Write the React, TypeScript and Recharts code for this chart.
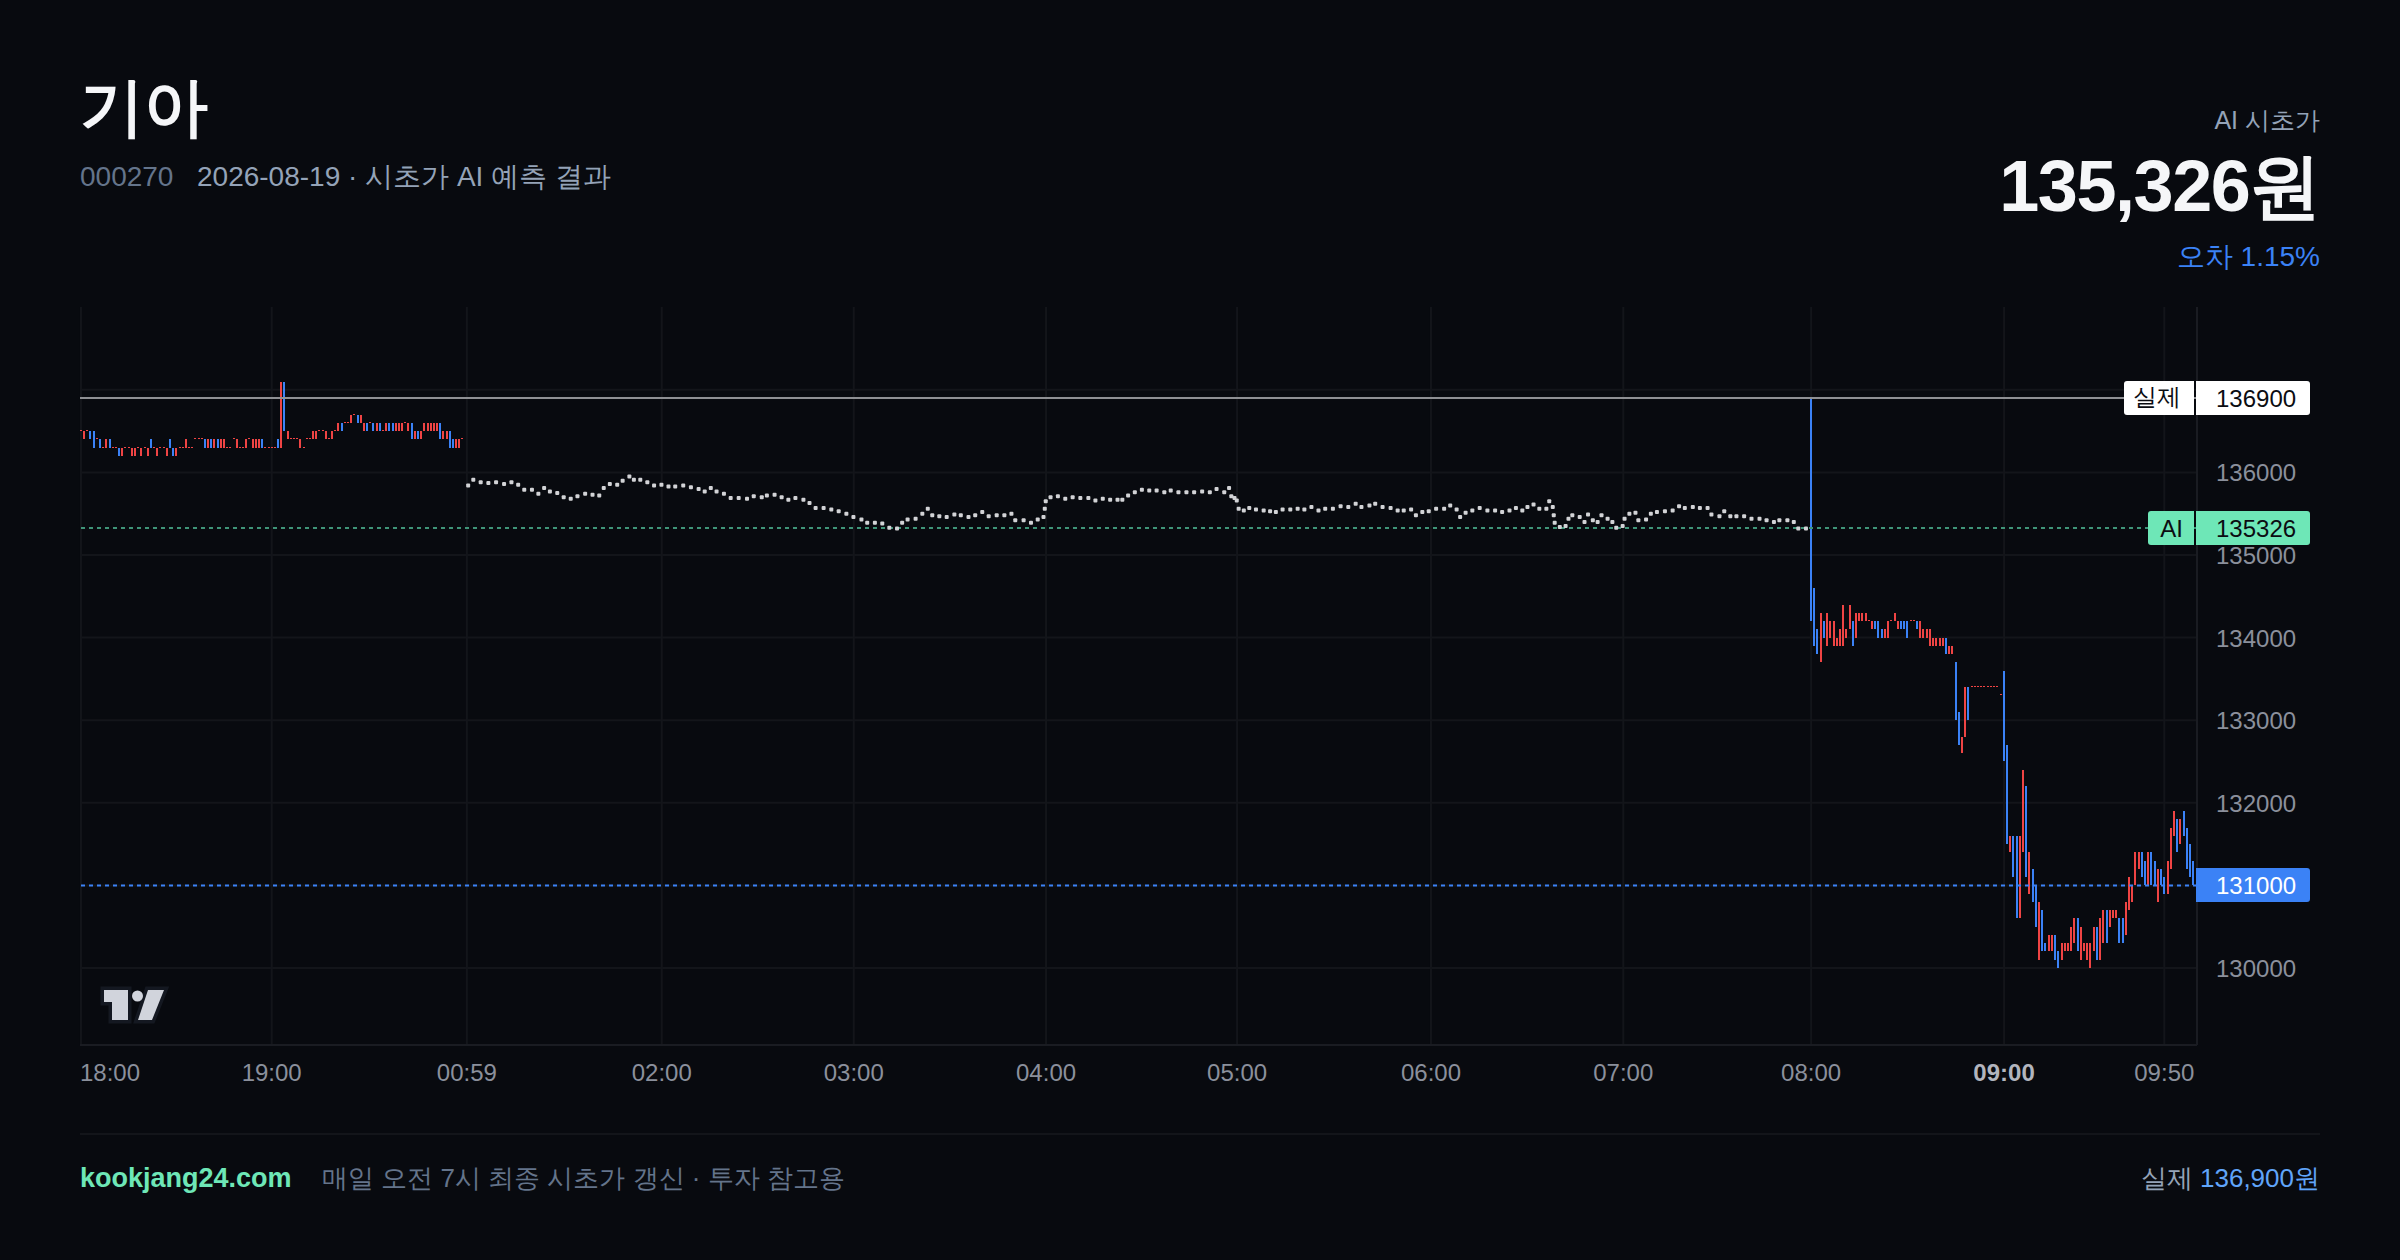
import { Bar, CartesianGrid, ComposedChart, ReferenceLine, Scatter, XAxis, YAxis } from "recharts";

const FONT = '"Liberation Sans", sans-serif';
const RED = "#ef4444";
const BLUE = "#3b82f6";
const MINT = "#6ee7b7";
const GRID = "#13151a";

const AI_PRICE = 135326;
const ACTUAL_PRICE = 136900;
const LAST_PRICE = 131000;

const priceTicks = [130000, 131000, 132000, 133000, 134000, 135000, 136000, 137000];
const timeTicks = [0, 59.5, 120.4, 181.2, 241.1, 301.1, 360.7, 421.2, 481.2, 539.8, 600, 650];
const timeLabels = ["18:00", "19:00", "00:59", "02:00", "03:00", "04:00", "05:00", "06:00", "07:00", "08:00", "09:00", "09:50"];

// evening session, one bar per minute
const eveningLow = [
  136500, 136400, 136500, 136400, 136300, 136400, 136300, 136300, 136300, 136300,
  136300, 136300, 136200, 136200, 136300, 136300, 136200, 136200, 136300, 136200,
  136300, 136200, 136300, 136300, 136200, 136300, 136300, 136200, 136300, 136200,
  136200, 136300, 136300, 136300, 136300, 136300, 136400, 136400, 136400, 136300,
  136300, 136300, 136300, 136300, 136300, 136300, 136300, 136300, 136400, 136300,
  136300, 136300, 136300, 136400, 136300, 136300, 136300, 136300, 136300, 136300,
  136300, 136300, 136300, 136300, 136500, 136400, 136400, 136400, 136400, 136300,
  136300, 136400, 136400, 136400, 136400, 136500, 136500, 136400, 136400, 136400,
  136500, 136500, 136500, 136600, 136600, 136600, 136700, 136600, 136600, 136500,
  136500, 136600, 136500, 136500, 136500, 136500, 136500, 136500, 136500, 136500,
  136500, 136500, 136600, 136500, 136400, 136400, 136400, 136400, 136500, 136500,
  136500, 136500, 136500, 136400, 136400, 136400, 136300, 136300, 136300, 136300,
  136400,
];
const eveningHigh = [
  136500, 136500, 136500, 136500, 136500, 136400, 136400, 136300, 136400, 136400,
  136300, 136300, 136300, 136300, 136300, 136300, 136300, 136300, 136300, 136300,
  136300, 136300, 136400, 136300, 136300, 136300, 136300, 136300, 136400, 136300,
  136300, 136300, 136300, 136400, 136300, 136300, 136400, 136400, 136400, 136400,
  136400, 136400, 136400, 136400, 136400, 136400, 136300, 136300, 136400, 136400,
  136300, 136300, 136400, 136400, 136400, 136400, 136400, 136400, 136300, 136300,
  136300, 136300, 136400, 137100, 137100, 136500, 136400, 136400, 136400, 136400,
  136300, 136400, 136400, 136500, 136500, 136500, 136500, 136500, 136400, 136500,
  136500, 136600, 136600, 136600, 136600, 136700, 136700, 136700, 136700, 136600,
  136600, 136600, 136600, 136600, 136600, 136500, 136600, 136600, 136600, 136600,
  136600, 136600, 136600, 136600, 136600, 136500, 136500, 136500, 136600, 136600,
  136600, 136600, 136600, 136600, 136500, 136500, 136500, 136400, 136400, 136400,
  136400,
];
const eveningFalling = [3, 4, 6, 9, 12, 22, 28, 29, 39, 41, 43, 57, 62, 64, 82, 87, 90, 92, 94, 97, 98, 104, 106, 113, 116, 117];

// morning session from 08:00
const morningLow = [
  134200, 133900, 133800, 133700, 134000, 133900, 134000, 133900, 133900, 133900,
  133900, 134000, 134100, 133900, 134000, 134200, 134200, 134200, 134200, 134100,
  134100, 134000, 134000, 134000, 134000, 134200, 134200, 134100, 134100, 134100,
  134000, 134200, 134200, 134100, 134000, 134000, 134000, 133900, 133900, 133900,
  133900, 133900, 133800, 133800, 133800, 133000, 132700, 132600, 132800, 133000,
  133400, 133400, 133400, 133400, 133400, 133400, 133400, 133400, 133400, 133300,
  132500, 131500, 131400, 131100, 130600, 130600, 131400, 131100, 130900, 130800,
  130500, 130100, 130200, 130200, 130200, 130200, 130100, 130000, 130100, 130200,
  130200, 130200, 130300, 130200, 130100, 130200, 130100, 130000, 130200, 130100,
  130100, 130300, 130300, 130500, 130600, 130600, 130300, 130300, 130400, 130700,
  130800, 131000, 131200, 131100, 131000, 131000, 131000, 131000, 130800, 131000,
  130900, 130900, 131200, 131600, 131400, 131500, 131600, 131200, 131100, 131000,
];
const morningHigh = [
  136900, 134600, 134100, 134300, 134200, 134300, 134200, 134200, 134000, 134100,
  134400, 134100, 134400, 134200, 134300, 134300, 134300, 134300, 134200, 134200,
  134200, 134200, 134100, 134100, 134200, 134200, 134300, 134200, 134200, 134200,
  134200, 134200, 134200, 134200, 134200, 134100, 134100, 134100, 134000, 134000,
  134000, 134000, 134000, 133900, 133900, 133700, 133100, 132800, 133400, 133400,
  133400, 133400, 133400, 133400, 133400, 133400, 133400, 133400, 133400, 133300,
  133600, 132700, 131600, 131600, 131600, 131600, 132400, 132200, 131400, 131200,
  131000, 130800, 130700, 130300, 130400, 130400, 130400, 130200, 130300, 130300,
  130300, 130500, 130600, 130600, 130500, 130300, 130300, 130300, 130500, 130500,
  130600, 130700, 130700, 130700, 130700, 130700, 130600, 130600, 130800, 131100,
  131000, 131400, 131400, 131400, 131300, 131400, 131400, 131300, 131200, 131200,
  131100, 131300, 131700, 131900, 131800, 131800, 131900, 131700, 131500, 131300,
];
const morningFalling = [
  0, 1, 2, 4, 13, 20, 21, 22, 28, 29, 30, 33, 42, 45, 46, 49, 60, 61, 63, 64, 67, 69, 70, 72, 73, 76, 77, 83, 89, 92,
  96, 97, 103, 104, 106, 107, 109, 110, 114, 116, 117, 118, 119,
];

// AI opening-price forecast dots
const forecastTimes = [
  120.8, 122.4, 124.7, 127.1, 129.5, 132, 134.3, 136.4, 138.3, 140.7, 142.7, 144.5, 146.3, 148.6, 150.6, 152.8, 154.9, 157.3,
  159.6, 161.7, 163.1, 165, 167.3, 169, 171.1, 172.5, 174.5, 176.7, 178.8, 181.1, 183.3, 185.4, 187.9, 190.3, 192.7, 194.6,
  196.5, 198.3, 200.6, 202.7, 205.2, 207.8, 209.9, 212.4, 214, 216.4, 218.6, 220.7, 222.9, 225.4, 227.3, 229.2, 231.7, 234.1,
  236.4, 238.8, 241, 243.5, 245.3, 247.7, 250, 252.2, 254.6, 256.2, 257.9, 260.4, 262.5, 264.2, 265.6, 267.8, 270.1, 272.5,
  274.5, 276.9, 279, 281.2, 283.2, 285.7, 288.1, 290.3, 291.5, 294.1, 296.4, 298.5, 300.3, 300.7, 301, 302.5, 304.8, 307.1,
  309.4, 311.8, 314.3, 316.5, 318.8, 321.1, 323.4, 324.9, 326.7, 328.8, 331, 333.3, 335.6, 338, 340, 342.4, 344.9, 347.3,
  349.8, 352.2, 354.3, 356.7, 358.2, 358.9, 359.9, 360.6, 361.2, 362.8, 364.5, 366.6, 369, 371, 372.8, 374.9, 377.3, 379.6,
  381.7, 383.9, 386.1, 388.2, 390.6, 393, 395.4, 397.7, 399.5, 402, 403.8, 406.1, 408.6, 410.8, 412.7, 415, 416.5, 418.5,
  420.5, 422.8, 425.3, 427.2, 429.2, 430.3, 432, 434.1, 436.4, 438.8, 441.2, 443.4, 445.7, 447.7, 449.7, 451.3, 453.2, 455,
  457.2, 458.1, 459.2, 459.5, 459.8, 461.4, 463.2, 464.1, 465.3, 467.6, 469.1, 470.2, 471.7, 473.2, 474.4, 476.3, 477.8, 479,
  481, 481.6, 483.1, 485, 485.9, 488.3, 489.8, 491.7, 494.2, 496.6, 498.6, 500.4, 502.9, 505.1, 507.5, 508.7, 511.2, 512.7,
  514.6, 516.5, 518.9, 521.2, 523.7, 525.9, 528.2, 529.9, 532.4, 534.4, 535.8, 538.2,
];
const forecastPrices = [
  135840, 135910, 135880, 135870, 135880, 135860, 135880, 135850, 135790, 135790, 135740, 135810, 135770, 135750, 135700, 135680, 135710, 135740,
  135730, 135720, 135810, 135860, 135850, 135900, 135950, 135910, 135910, 135880, 135840, 135850, 135830, 135830, 135840, 135820, 135800, 135770,
  135810, 135770, 135740, 135690, 135690, 135680, 135710, 135700, 135720, 135730, 135700, 135670, 135690, 135670, 135630, 135570, 135570, 135550,
  135530, 135500, 135460, 135430, 135390, 135390, 135380, 135330, 135320, 135390, 135430, 135440, 135500, 135560, 135480, 135470, 135460, 135490,
  135480, 135460, 135480, 135520, 135470, 135480, 135480, 135500, 135420, 135420, 135390, 135430, 135460, 135560, 135650, 135700, 135710, 135680,
  135700, 135690, 135690, 135660, 135680, 135670, 135670, 135670, 135720, 135760, 135790, 135780, 135780, 135760, 135780, 135760, 135760, 135760,
  135770, 135760, 135800, 135760, 135810, 135710, 135690, 135660, 135560, 135540, 135570, 135550, 135540, 135530, 135520, 135550, 135550, 135560,
  135550, 135580, 135540, 135560, 135560, 135590, 135580, 135620, 135580, 135600, 135620, 135580, 135570, 135540, 135540, 135550, 135480, 135520,
  135530, 135560, 135560, 135600, 135550, 135460, 135510, 135540, 135570, 135540, 135540, 135520, 135540, 135570, 135540, 135580, 135610, 135560,
  135560, 135650, 135580, 135480, 135390, 135340, 135350, 135440, 135480, 135460, 135400, 135490, 135420, 135400, 135480, 135440, 135400, 135330,
  135350, 135440, 135500, 135510, 135420, 135430, 135500, 135520, 135530, 135540, 135590, 135570, 135580, 135570, 135570, 135490, 135470, 135530,
  135470, 135470, 135470, 135440, 135440, 135420, 135400, 135420, 135420, 135400, 135320, 135320,
];

const barRows = [
  ...eveningLow.map((low, i) => ({ t: i * 0.992, range: [low, eveningHigh[i]], falling: eveningFalling.includes(i) })),
  ...morningLow.map((low, i) => ({ t: 539.8 + i * 1.002, range: [low, morningHigh[i]], falling: morningFalling.includes(i) })),
];
const forecastRows = forecastTimes.map((t, i) => ({ t, price: forecastPrices[i] }));

function CandleBar(props: any) {
  const { x, y, width, height, payload } = props;
  const top = Math.round(y);
  const bottom = Math.max(Math.round(y + height), top + 1);
  return <rect x={Math.round(x + width / 2 - 1)} y={top} width={2} height={bottom - top} fill={payload.falling ? BLUE : RED} shapeRendering="crispEdges" />;
}

function ForecastDot(props: any) {
  return <rect x={props.cx - 2} y={props.cy - 2} width={4} height={4} rx={1} fill="#d2d3d6" />;
}

function TimeTick(props: any) {
  const { x, y, index } = props;
  const label = timeLabels[index];
  const bold = label === "09:00";
  return (
    <text
      x={index === 0 ? x - 1 : x}
      y={y + 36}
      textAnchor={index === 0 ? "start" : "middle"}
      fontSize={24}
      fontFamily={FONT}
      fontWeight={bold ? 700 : 400}
      fill={bold ? "#b2b5be" : "#8b909c"}
    >
      {label}
    </text>
  );
}

// these two sit behind a price tag in the picture, so they get no label of their own
const coveredPrices = [131000, 137000];

function PriceTick(props: any) {
  const { x, y, payload } = props;
  if (coveredPrices.includes(payload.value)) return null;
  return (
    <text x={x} y={y + 9} fontSize={24} fontFamily={FONT} fill="#8b909c">
      {payload.value}
    </text>
  );
}

function PriceTag(props: any) {
  const { viewBox, tag, text, bg, fg } = props;
  const right = viewBox.x + viewBox.width;
  const top = Math.round(viewBox.y) - 17;
  return (
    <g fontFamily={FONT} fontSize={24} fill={fg}>
      <path d={`M${right - 1} ${top}H${right + 110}a3 3 0 0 1 3 3V${top + 31}a3 3 0 0 1 -3 3H${right - 1}Z`} fill={bg} />
      <text x={right + 19} y={top + 26} fill={fg}>
        {text}
      </text>
      {tag ? (
        <>
          <path d={`M${right - 3} ${top}H${right - tag.width}a3 3 0 0 0 -3 3V${top + 31}a3 3 0 0 0 3 3H${right - 3}Z`} fill={bg} />
          <text x={right - 3 - (tag.width - 3) / 2 - 1 + tag.dx} y={top + 26 + tag.dy} textAnchor="middle" fill={fg}>
            {tag.label}
          </text>
        </>
      ) : null}
    </g>
  );
}

function Logo() {
  return (
    <svg width={100} height={60} style={{ position: "absolute", left: 90, top: 975 }} viewBox="90 975 100 60">
      <g fill="#d1d4dc" stroke="#141821" strokeWidth={7} paintOrder="stroke" strokeLinejoin="miter">
        <path d="M104 990H128V1020H112V1002H104Z" />
        <path d="M148 990H164L152 1020H138Z" />
      </g>
      <circle cx={137.5} cy={996} r={5.5} fill="#d1d4dc" />
    </svg>
  );
}

const abs = (style: any) => ({ position: "absolute", whiteSpace: "nowrap", ...style }) as any;

export default function App() {
  return (
    <div style={{ position: "fixed", left: 0, top: 0, width: 2400, height: 1260, background: "#080a0f", fontFamily: FONT, overflow: "hidden" }}>
      <div style={abs({ left: 80, top: 65, fontSize: 64, lineHeight: "84px", fontWeight: 700, color: "#f5f6f8" })}>기아</div>
      <div style={abs({ left: 80, top: 160, fontSize: 28, lineHeight: "34px", color: "#64748b" })}>000270</div>
      <div style={abs({ left: 197, top: 160, fontSize: 28, lineHeight: "34px", color: "#94a3b8" })}>2026-08-19 · 시초가 AI 예측 결과</div>
      <div style={abs({ right: 80, top: 103, fontSize: 25, lineHeight: "34px", color: "#94a3b8" })}>AI 시초가</div>
      <div style={abs({ right: 80, top: 141, fontSize: 72, lineHeight: "90px", fontWeight: 700, letterSpacing: "-1.44px", color: "#f5f6f8" })}>135,326원</div>
      <div style={abs({ right: 80, top: 239, fontSize: 28, lineHeight: "36px", color: BLUE })}>오차 1.15%</div>

      <div style={{ position: "absolute", left: 0, top: 0 }}>
        <ComposedChart width={2400} height={1260} data={barRows} margin={{ top: 307, right: 80, bottom: 165, left: 80 }}>
          <CartesianGrid stroke={GRID} strokeWidth={2} horizontalValues={priceTicks} verticalValues={timeTicks} />
          <XAxis
            dataKey="t"
            type="number"
            domain={[-0.31, 660.2]}
            ticks={timeTicks}
            interval={0}
            allowDataOverflow
            height={50}
            tickSize={0}
            tickMargin={0}
            stroke="#1a1c22"
            strokeWidth={2}
            tick={<TimeTick />}
          />
          <YAxis
            orientation="right"
            type="number"
            width={123}
            domain={[129068, 138002]}
            ticks={priceTicks}
            interval={0}
            allowDataOverflow
            axisLine={false}
            tickSize={0}
            tickMargin={19}
            tick={<PriceTick />}
          />
          <ReferenceLine x={660.2} stroke="#1a1c22" strokeWidth={2} />
          <Bar dataKey="range" barSize={2} minPointSize={1} shape={<CandleBar />} isAnimationActive={false} />
          <Scatter data={forecastRows} dataKey="price" shape={<ForecastDot />} isAnimationActive={false} />
          <ReferenceLine
            y={ACTUAL_PRICE}
            stroke="#8f9094"
            strokeWidth={2}
            label={<PriceTag tag={{ label: "실제", width: 70, dx: -3, dy: -2 }} text={String(ACTUAL_PRICE)} bg="#ffffff" fg="#0b0d12" />}
          />
          <ReferenceLine
            y={AI_PRICE}
            stroke="#3f9478"
            strokeWidth={2}
            strokeDasharray="4 4"
            label={<PriceTag tag={{ label: "AI", width: 46, dx: 0, dy: 0 }} text={String(AI_PRICE)} bg={MINT} fg="#0b0d12" />}
          />
          <ReferenceLine
            y={LAST_PRICE}
            stroke={BLUE}
            strokeWidth={2}
            strokeDasharray="4 4"
            label={<PriceTag text={String(LAST_PRICE)} bg={BLUE} fg="#ffffff" />}
          />
        </ComposedChart>
      </div>
      <Logo />

      <div style={{ position: "absolute", left: 80, top: 1133, width: 2240, height: 2, background: GRID }} />
      <div style={abs({ left: 80, top: 1161, fontSize: 27, lineHeight: "34px", fontWeight: 700, color: MINT })}>kookjang24.com</div>
      <div style={abs({ left: 322, top: 1161, fontSize: 26, lineHeight: "34px", color: "#64748b" })}>매일 오전 7시 최종 시초가 갱신 · 투자 참고용</div>
      <div style={abs({ right: 80, top: 1161, fontSize: 26, lineHeight: "34px", color: "#94a3b8" })}>
        실제 <span style={{ color: "#60a5fa" }}>136,900원</span>
      </div>
    </div>
  );
}
